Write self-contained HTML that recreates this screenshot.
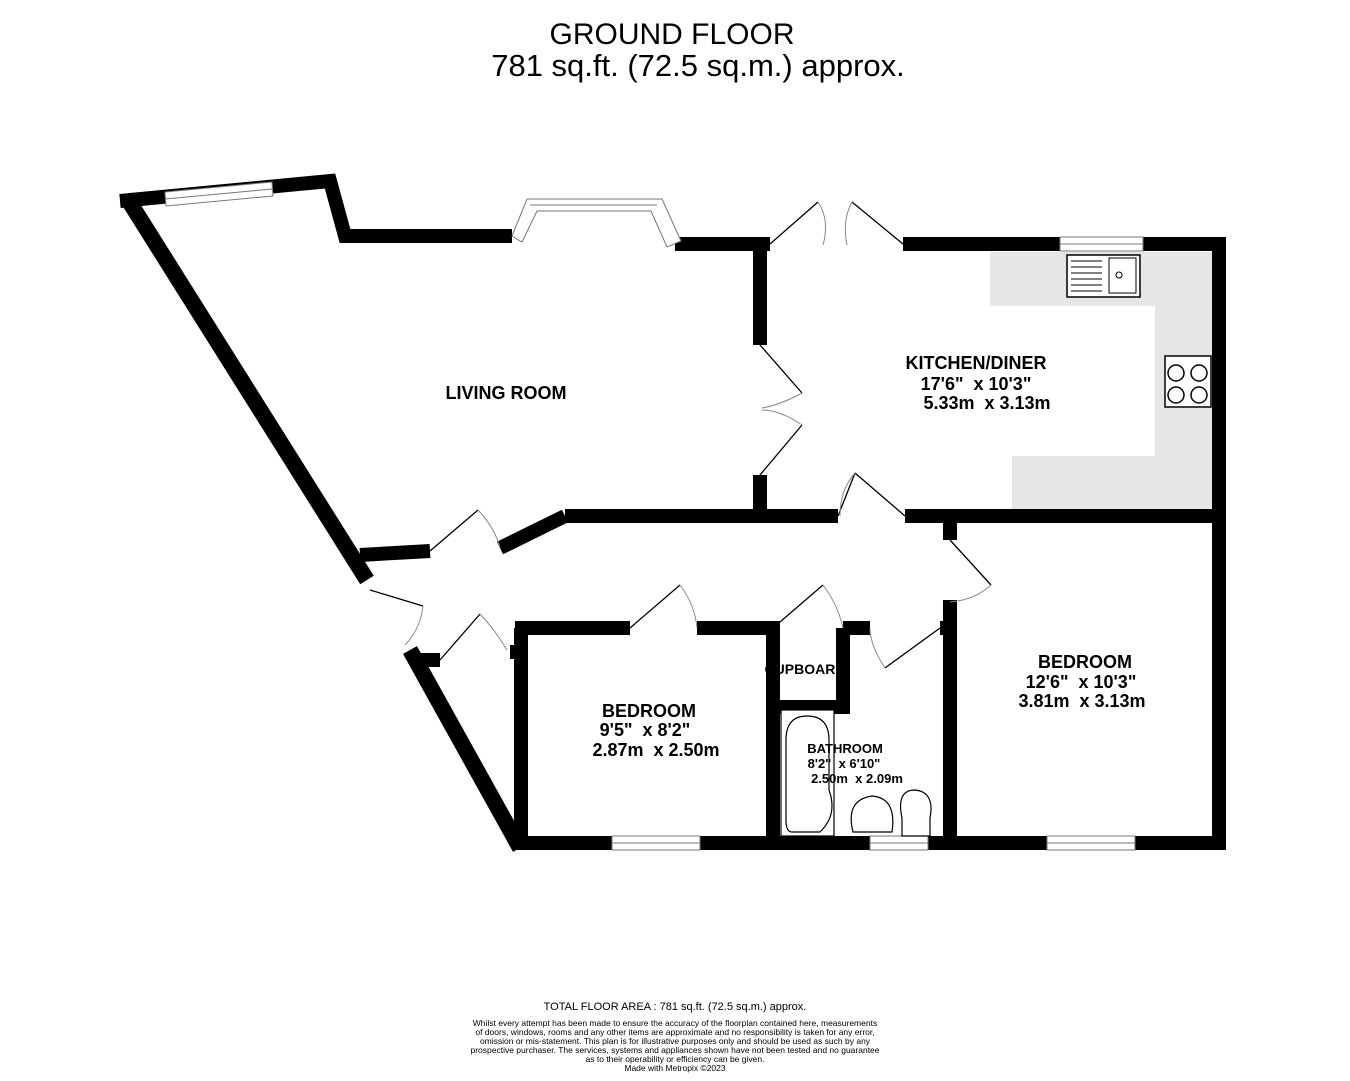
<!DOCTYPE html>
<html><head><meta charset="utf-8"><style>
html,body{margin:0;padding:0;background:#fff}
svg{display:block}
text{font-family:"Liberation Sans",Arial,sans-serif;white-space:pre}
</style></head><body>
<svg width="1350" height="1081" viewBox="0 0 1350 1081" xmlns="http://www.w3.org/2000/svg" xml:space="preserve">
<rect width="1350" height="1081" fill="#fff"/>
<text x="672" y="44" font-size="30" text-anchor="middle">GROUND FLOOR</text>
<text x="698" y="76" font-size="31" text-anchor="middle">781 sq.ft. (72.5 sq.m.) approx.</text>

<path d="M990 252 H1212 V510 H1012 V456 H1155 V306 H990 Z" fill="#e6e6e6"/>
<rect x="1067" y="255" width="73" height="42" fill="#fff" stroke="#000" stroke-width="1.5"/>
<rect x="1109" y="258" width="27" height="35" fill="none" stroke="#000"/>
<g stroke="#000" stroke-width="1" fill="none">
<line x1="1071" y1="261" x2="1102" y2="261"/><line x1="1071" y1="267" x2="1102" y2="267"/><line x1="1071" y1="273" x2="1102" y2="273"/><line x1="1071" y1="279" x2="1102" y2="279"/><line x1="1071" y1="285" x2="1102" y2="285"/><line x1="1071" y1="291" x2="1102" y2="291"/>
<circle cx="1119" cy="275" r="3"/>
</g>
<rect x="1165" y="356" width="46" height="51" fill="#fff" stroke="#000" stroke-width="1.5"/>
<g stroke="#000" fill="none" stroke-width="1.5"><circle cx="1176" cy="373" r="8"/><circle cx="1199" cy="373" r="8"/><circle cx="1176" cy="395" r="8"/><circle cx="1199" cy="395" r="8"/></g>

<g fill="none" stroke="#000" stroke-width="14" stroke-linejoin="miter">
<polyline points="127,198 367,580" stroke-width="16"/>
<polyline points="120,201 330,181 345,236 512,236"/>
<polyline points="675,244 770,244"/>
<polyline points="760,244 760,345"/>
<polyline points="760,475 760,520"/>
<polyline points="903,244 1219,244 1219,850"/>
<polyline points="940,843 1226,843"/>
<polyline points="565,516 838,516"/>
<polyline points="905,516 1219,516"/>
<polyline points="500,548 565,516"/>
<polyline points="360,555 430,551"/>
<polyline points="950,516 950,540"/>
<polyline points="950,600 950,843"/>
<polyline points="515,628 630,628"/>
<polyline points="697,628 773,628 773,843"/>
<polyline points="521,628 521,843"/>
<polyline points="515,843 950,843"/>
<polyline points="843,628 843,707 773,707"/>
<polyline points="843,628 870,628"/>
<polyline points="940,628 950,628"/>
<polyline points="410,650 520,848" stroke-width="16"/>
<polyline points="412,660 440,660"/>
<polyline points="510,652 521,652"/>
</g>
<g fill="#fff" stroke="#777" stroke-width="1">
<polygon points="165,192 272,182 273,196 166,206"/>
<line x1="165" y1="199" x2="272" y2="189"/>
<rect x="1060" y="237" width="83" height="14"/><line x1="1060" y1="244" x2="1143" y2="244"/>
<rect x="1047" y="836" width="88" height="14"/><line x1="1047" y1="843" x2="1135" y2="843"/>
<rect x="612" y="836" width="88" height="14"/><line x1="612" y1="843" x2="700" y2="843"/>
<rect x="870" y="836" width="58" height="14"/><line x1="870" y1="843" x2="928" y2="843"/>
<polygon points="512,236 527,199 662,199 681,241 667,247 651,211 537,211 522,242"/>
<line x1="530" y1="205" x2="657" y2="205"/>
</g>
<g fill="none" stroke="#000" stroke-width="1.3">
<line x1="770" y1="244" x2="818" y2="202"/><line x1="903" y1="244" x2="852" y2="202"/>
<line x1="760" y1="345" x2="802" y2="393"/><line x1="760" y1="475" x2="802" y2="425"/>
<line x1="838" y1="516" x2="855" y2="473"/><line x1="855" y1="473" x2="905" y2="516"/>
<line x1="950" y1="540" x2="991" y2="585"/>
<line x1="630" y1="628" x2="680" y2="585"/>
<line x1="773" y1="628" x2="823" y2="585"/>
<line x1="940" y1="628" x2="885" y2="668"/>
<line x1="430" y1="551" x2="478" y2="510"/>
<line x1="370" y1="590" x2="423" y2="606"/>
<line x1="440" y1="660" x2="480" y2="614"/>
</g>
<g fill="none" stroke="#888" stroke-width="1">
<path d="M818 202 Q830 220 823 245"/><path d="M852 202 Q842 220 847 245"/>
<path d="M802 393 Q780 405 762 408"/><path d="M802 425 Q780 410 762 410"/>
<path d="M855 473 Q840 490 840 516"/>
<path d="M991 585 Q975 600 950 602"/>
<path d="M680 585 Q695 605 697 628"/>
<path d="M823 585 Q838 605 843 628"/>
<path d="M885 668 Q870 645 870 628"/>
<path d="M478 510 Q495 528 500 548"/>
<path d="M423 606 Q420 630 405 645"/>
<path d="M480 614 Q495 630 507 650"/>
</g>
<g fill="#fff" stroke="#000" stroke-width="1.2">
<rect x="781" y="710" width="53" height="126"/>
<path d="M786 740 Q786 716 807 716 Q829 716 829 740 L829 790 Q838 815 820 832 L792 832 Q786 832 786 820 Z"/>
<path d="M853 832 Q845 800 872 796 Q897 798 892 832 Z"/>
<path d="M902 836 L902 818 Q896 790 915 790 Q935 792 930 818 L930 836 Z"/>
</g>

<g font-weight="bold" text-anchor="middle" fill="#000">
<text x="506" y="399" font-size="18">LIVING ROOM</text>
<text x="976" y="369" font-size="18">KITCHEN/DINER</text>
<text x="976" y="390" font-size="18">17'6"  x 10'3"</text>
<text x="987" y="409" font-size="18">5.33m  x 3.13m</text>
<text x="1085" y="668" font-size="18">BEDROOM</text>
<text x="1081" y="688" font-size="18">12'6"  x 10'3"</text>
<text x="1082" y="707" font-size="18">3.81m  x 3.13m</text>
<text x="649" y="717" font-size="18">BEDROOM</text>
<text x="645" y="736" font-size="18">9'5"  x 8'2"</text>
<text x="656" y="756" font-size="18">2.87m  x 2.50m</text>
<text x="805" y="674" font-size="14">CUPBOARD</text>
<text x="845" y="753" font-size="13">BATHROOM</text>
<text x="844" y="768" font-size="13">8'2"  x 6'10"</text>
<text x="857" y="783" font-size="13">2.50m  x 2.09m</text>
</g>
<g text-anchor="middle" fill="#000">
<text x="675" y="1010" font-size="11">TOTAL FLOOR AREA : 781 sq.ft. (72.5 sq.m.) approx.</text>
<text x="675" y="1026" font-size="8.5">Whilst every attempt has been made to ensure the accuracy of the floorplan contained here, measurements</text>
<text x="675" y="1035" font-size="8.5">of doors, windows, rooms and any other items are approximate and no responsibility is taken for any error,</text>
<text x="675" y="1044" font-size="8.5">omission or mis-statement. This plan is for illustrative purposes only and should be used as such by any</text>
<text x="675" y="1053" font-size="8.5">prospective purchaser. The services, systems and appliances shown have not been tested and no guarantee</text>
<text x="675" y="1062" font-size="8.5">as to their operability or efficiency can be given.</text>
<text x="675" y="1071" font-size="8.5">Made with Metropix ©2023</text>
</g>
</svg>
</body></html>
